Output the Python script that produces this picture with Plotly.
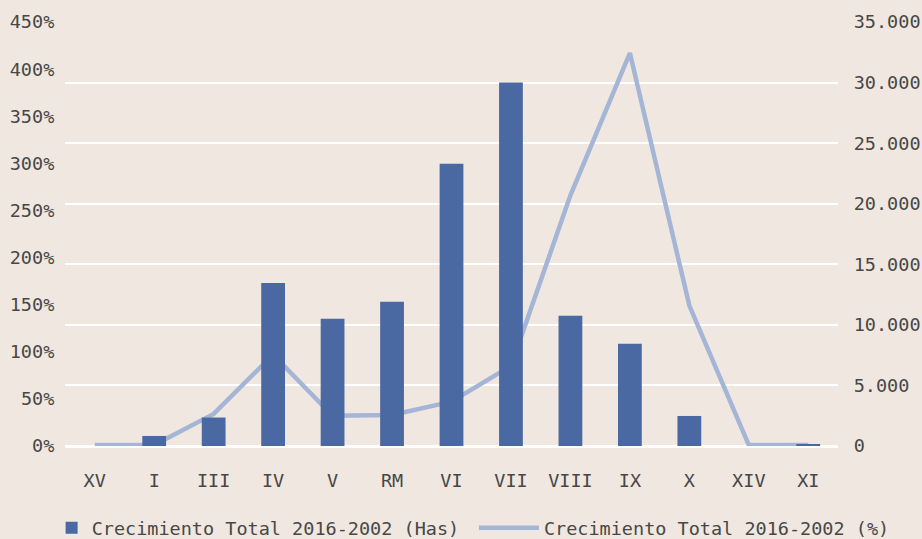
import plotly.graph_objects as go

categories = ["XV", "I", "III", "IV", "V", "RM", "VI", "VII", "VIII", "IX", "X", "XIV", "XI"]
has_values = [0, 830, 2350, 13450, 10500, 11900, 23300, 30000, 10750, 8450, 2480, 0, 120]
pct_values = [1, 1, 34, 97, 32, 33, 47, 85, 266, 417, 149, 1, 1]
left_ticks = [0, 50, 100, 150, 200, 250, 300, 350, 400, 450]
left_labels = ["0%", "50%", "100%", "150%", "200%", "250%", "300%", "350%", "400%", "450%"]
right_ticks = [0, 5000, 10000, 15000, 20000, 25000, 30000, 35000]
right_labels = ["0", "5.000", "10.000", "15.000", "20.000", "25.000", "30.000", "35.000"]

BG = "#F0E8E0"
TXT = "#474747"
FONT = "DejaVu Sans Mono"
FS = 18.5

fig = go.Figure()
fig.add_trace(go.Bar(
    x=categories, y=has_values, yaxis="y2",
    name="Crecimiento Total 2016-2002 (Has)",
    marker=dict(color="#4A68A1", line=dict(width=0)),
    legend="legend",
))
fig.add_trace(go.Scatter(
    x=categories, y=pct_values, yaxis="y",
    mode="lines", name="Crecimiento Total 2016-2002 (%)",
    line=dict(color="#A4B5D6", width=4.5),
    legend="legend2",
))

legend_common = dict(orientation="h", xref="container", yref="container",
                     xanchor="left", y=0.02, yanchor="middle",
                     font=dict(family=FONT, size=FS, color=TXT),
                     bgcolor="rgba(0,0,0,0)")

fig.update_layout(
    width=922, height=539,
    paper_bgcolor=BG, plot_bgcolor=BG,
    margin=dict(l=65, r=84, t=22, b=93, autoexpand=False),
    font=dict(family=FONT, size=FS, color=TXT),
    bargap=0.6,
    showlegend=True,
    legend=dict(x=0.056, itemwidth=30, **legend_common),
    legend2=dict(x=0.514, itemwidth=60, **legend_common),
    xaxis=dict(showgrid=False, showline=False, zeroline=False,
               ticks="outside", ticklen=18, tickcolor="rgba(0,0,0,0)",
               tickfont=dict(family=FONT, size=FS, color=TXT)),
    yaxis=dict(range=[0, 450], tickmode="array", tickvals=left_ticks, ticktext=left_labels,
               showgrid=False, zeroline=False, showline=False,
               ticks="outside", ticklen=6, tickcolor="rgba(0,0,0,0)",
               tickfont=dict(family=FONT, size=FS, color=TXT)),
    yaxis2=dict(range=[0, 35000], tickmode="array", tickvals=right_ticks, ticktext=right_labels,
                overlaying="y", side="right",
                showgrid=True, gridcolor="white", gridwidth=2,
                zeroline=True, zerolinecolor="white", zerolinewidth=3,
                ticks="outside", ticklen=11, tickcolor="rgba(0,0,0,0)",
                tickfont=dict(family=FONT, size=FS, color=TXT)),
)

fig.write_html("out.html", config={"displayModeBar": False})

with open("out.html", "r", encoding="utf-8") as f:
    html = f.read()
html = html.replace("<head>", "<head><style>html,body{margin:0;padding:0;overflow:hidden;}</style>", 1)
with open("out.html", "w", encoding="utf-8") as f:
    f.write(html)
